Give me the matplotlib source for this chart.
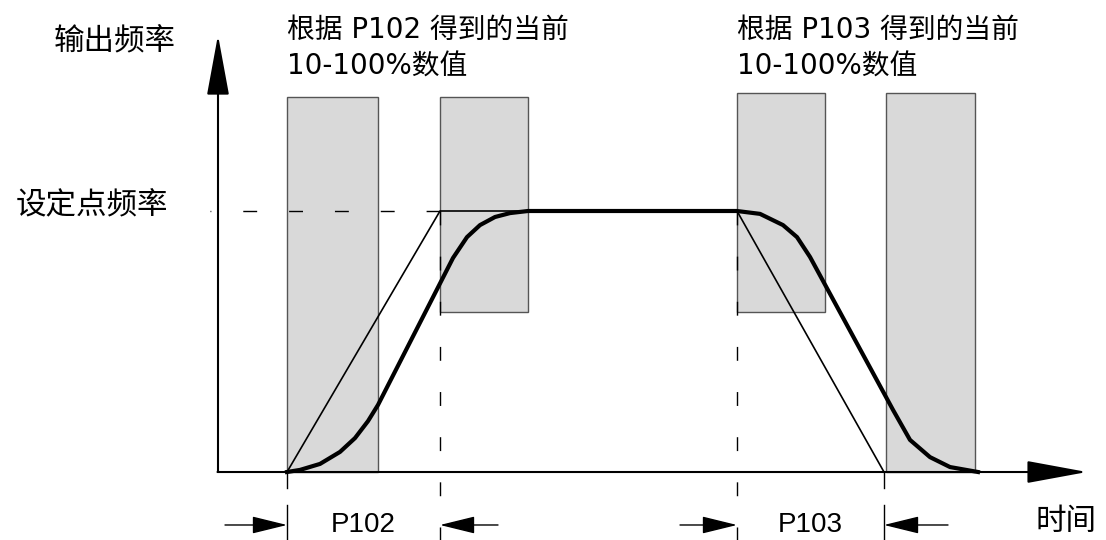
import matplotlib
matplotlib.use('Agg')
import matplotlib.pyplot as plt
from matplotlib.patches import Rectangle

plt.rcParams['font.family'] = ['Noto Sans CJK SC', 'DejaVu Sans']

# time axis in arbitrary units, frequency in % of set point
set_freq = 100
up_start, up_end = 6.9, 22.2        # P102 ramp
down_start, down_end = 51.9, 66.6   # P103 ramp

# grey windows for the 10-100% rounding
box_t0 = [6.9, 22.2, 51.9, 66.8]
box_t1 = [16.0, 31.0, 60.7, 75.7]
box_f0 = [0, 61.3, 61.3, 0]
box_f1 = [143.7, 143.7, 145.2, 145.2]

# S-shaped output frequency (thick)
s_up_t = [6.9, 8.2, 10.2, 12.2, 13.7, 15.0, 16.0, 23.5, 24.9, 26.2, 27.7, 29.2, 31.0]
s_up_f = [0, 0.8, 3.1, 7.7, 13.0, 19.5, 25.7, 82.0, 90.0, 94.6, 97.7, 99.2, 100]
s_dn_t = [51.9, 54.2, 56.5, 57.9, 59.2, 67.5, 69.2, 71.2, 73.2, 76.0]
s_dn_f = [100, 98.9, 94.6, 90.0, 82.4, 23.8, 12.3, 5.7, 1.9, 0]

# linear ramp (thin)
lin_t = [up_start, up_end, 31.0]
lin_f = [0, set_freq, set_freq]
lin_dn_t = [down_start, down_end]
lin_dn_f = [set_freq, 0]

fig = plt.figure(figsize=(11.06, 5.40), dpi=100)
ax = fig.add_axes([0, 0, 1, 1])
ax.set_xlim(-21.8, 88.8)
ax.set_ylim(-26.05, 180.84)
ax.axis('off')

for a, b, lo, hi in zip(box_t0, box_t1, box_f0, box_f1):
    ax.add_patch(Rectangle((a, lo), b - a, hi - lo, facecolor='#d9d9d9',
                           edgecolor='#555555', lw=1, zorder=1))

# axes with arrows
ax.annotate('', xy=(0, 167.4), xytext=(0, 0),
            arrowprops=dict(arrowstyle='-|>,head_length=38,head_width=7', lw=1.5,
                            color='black', shrinkA=0, shrinkB=0, mutation_scale=1), zorder=5)
ax.annotate('', xy=(86.9, 0), xytext=(-0.05, 0),
            arrowprops=dict(arrowstyle='-|>,head_length=38,head_width=7', lw=1.5,
                            color='black', shrinkA=0, shrinkB=0, mutation_scale=1), zorder=5)

# dashed guides
ax.plot([-0.8, up_end], [set_freq, set_freq], color='black', lw=1,
        linestyle=(9.4, (10, 23)), zorder=2)
for t in [up_end, down_start]:
    ax.plot([t, t], [set_freq, -26.05], color='black', lw=1,
            linestyle=(0, (10, 22.5)), zorder=2)
for t in [up_start, down_end]:
    ax.plot([t, t], [0, -6.1], color='black', lw=1, zorder=2)
    ax.plot([t, t], [-12.6, -26.05], color='black', lw=1, zorder=2)

# ramps
ax.plot(lin_t, lin_f, color='black', lw=1.2, zorder=3)
ax.plot(lin_dn_t, lin_dn_f, color='black', lw=1.2, zorder=3)
ax.plot(s_up_t + s_dn_t, s_up_f + s_dn_f, color='black', lw=3,
        solid_joinstyle='round', zorder=4)

# dimension arrows
ya = -20.3
for tip, tail in [(up_start, up_start - 6.2), (up_end, up_end + 5.8),
                  (down_start, down_start - 5.7), (down_end, down_end + 6.4)]:
    ax.annotate('', xy=(tip, ya), xytext=(tail, ya),
                arrowprops=dict(arrowstyle='-|>,head_length=22,head_width=5.4', lw=1,
                                color='black', shrinkA=0, shrinkB=0, mutation_scale=1))

ax.text((up_start + up_end) / 2, ya, 'P102', ha='center', va='center',
        fontsize=20, family='Liberation Sans')
ax.text((down_start + down_end) / 2, ya, 'P103', ha='center', va='center',
        fontsize=20, family='Liberation Sans')

# labels
ax.text(-10.3, 164.8, '输出频率', ha='center', va='center', fontsize=22, fontweight='light')
ax.text(-5.0, 102.0, '设定点频率', ha='right', va='center', fontsize=22, fontweight='light')
ax.text(84.8, -18.8, '时间', ha='center', va='center', fontsize=22, fontweight='light')

note_font = ['DejaVu Sans', 'Noto Sans CJK SC']
for t0, name in [(up_start, 'P102'), (down_start, 'P103')]:
    ax.text(t0, 169.3, '根据 ' + name + ' 得到的当前', ha='left', va='center',
            fontsize=20, family=note_font)
    ax.text(t0, 155.2, '10-100%数值', ha='left', va='center',
            fontsize=20, family=note_font)

fig.savefig('out.png', dpi=100)
